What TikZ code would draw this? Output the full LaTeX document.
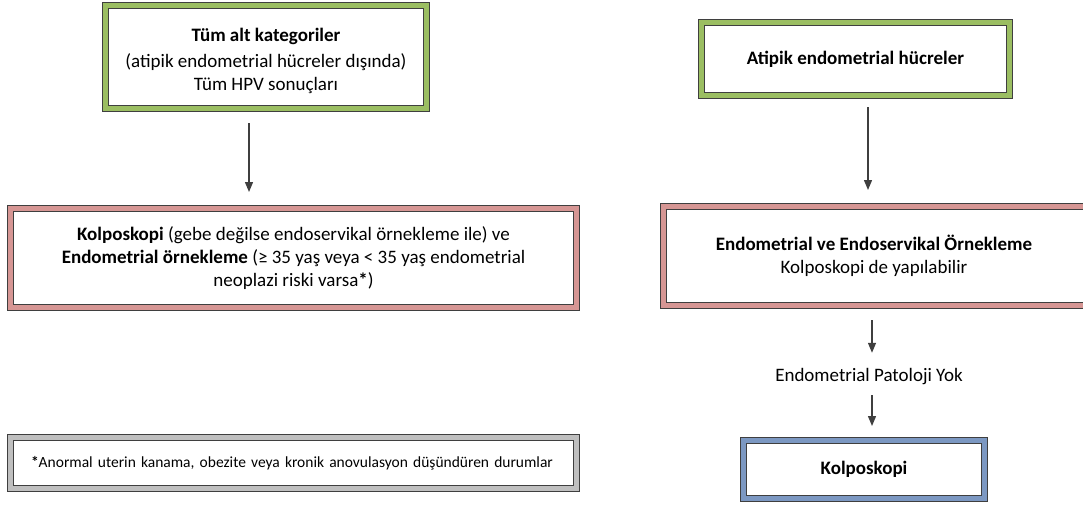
\documentclass[tikz,border=0pt]{standalone}
\usepackage{fontspec}
\setmainfont{Carlito}
\usetikzlibrary{arrows.meta,calc}

\definecolor{edge}{HTML}{3F3F3F}
\definecolor{bandgreen}{RGB}{155,190,98}
\definecolor{bandpink}{RGB}{214,150,148}
\definecolor{bandblue}{RGB}{124,152,194}
\definecolor{bandgray}{RGB}{191,191,191}

\tikzset{
  framed/.style={draw=edge, line width=1pt, double distance=5pt,
    inner sep=0pt, outer sep=0pt, align=center,
    font=\fontsize{19}{23}\selectfont},
  greenframe/.style={framed, double=bandgreen},
  pinkframe/.style={framed, double=bandpink},
  blueframe/.style={framed, double=bandblue},
  grayframe/.style={framed, double=bandgray},
  flow/.style={draw=edge, line width=1.3pt,
    -{Triangle[length=10pt,width=8pt]}},
  plainlabel/.style={inner sep=0pt, text height=13pt, text depth=4pt,
    font=\fontsize{19}{23}\selectfont}
}

\begin{document}
\begin{tikzpicture}[x=1pt,y=-1pt]
  \useasboundingbox (0,0) rectangle (1083,504);
  \clip (0,0) rectangle (1083,504);

  % left column
  \node[greenframe, minimum width=321pt, minimum height=103pt] (cats) at (266,57)
    {\rule{0pt}{22pt}\textbf{Tüm alt kategoriler}\\[3pt](atipik endometrial hücreler dışında)\\Tüm HPV sonuçları};

  \node[pinkframe, minimum width=566pt, minimum height=99pt] (colpo) at (293.5,258)
    {\textbf{Kolposkopi} (gebe değilse endoservikal örnekleme ile) ve\\
     \textbf{Endometrial örnekleme} (≥ 35 yaş veya < 35 yaş endometrial\\
     neoplazi riski varsa\textbf{*})};

  \node[grayframe, minimum width=566pt, minimum height=51pt, align=left,
        text width=525pt, font=\fontsize{15.5}{19}\selectfont] (note) at (293.5,463)
    {\textbf{*}Anormal uterin kanama, obezite veya kronik anovulasyon düşündüren durumlar};

  % right column
  \node[greenframe, minimum width=308pt, minimum height=73pt] (atyp) at (855.5,59)
    {\textbf{Atipik endometrial hücreler}};

  % this box runs on past the right edge of the page
  \node[pinkframe, minimum width=450pt, minimum height=99pt] (sampling) at (888.5,256)
    {\hspace*{-29pt}\textbf{Endometrial ve Endoservikal Örnekleme}\\
     \hspace*{-29pt}Kolposkopi de yapılabilir};

  \node[plainlabel] (nopath) at (869,377) {Endometrial Patoloji Yok};

  \node[blueframe, minimum width=241pt, minimum height=58pt] (colpo2) at (864,469.5)
    {\textbf{Kolposkopi}};

  % connectors
  \draw[flow, shorten <=14.5pt, shorten >=16.5pt]
    ([xshift=-17pt]cats.south) -- ([xshift=-17pt]cats.south |- colpo.north);
  \draw[flow, shorten <=11.5pt, shorten >=16.5pt]
    ([xshift=12.5pt]atyp.south) -- ([xshift=12.5pt]atyp.south |- sampling.north);
  \draw[flow, shorten <=14.5pt, shorten >=15.5pt]
    (nopath.north |- sampling.south) ++(3pt,0) coordinate (s3)
    (s3) -- (s3 |- nopath.north);
  \draw[flow, shorten <=9.5pt, shorten >=14.5pt]
    ([xshift=3pt]nopath.south) -- ([xshift=3pt]nopath.south |- colpo2.north);
\end{tikzpicture}
\end{document}
